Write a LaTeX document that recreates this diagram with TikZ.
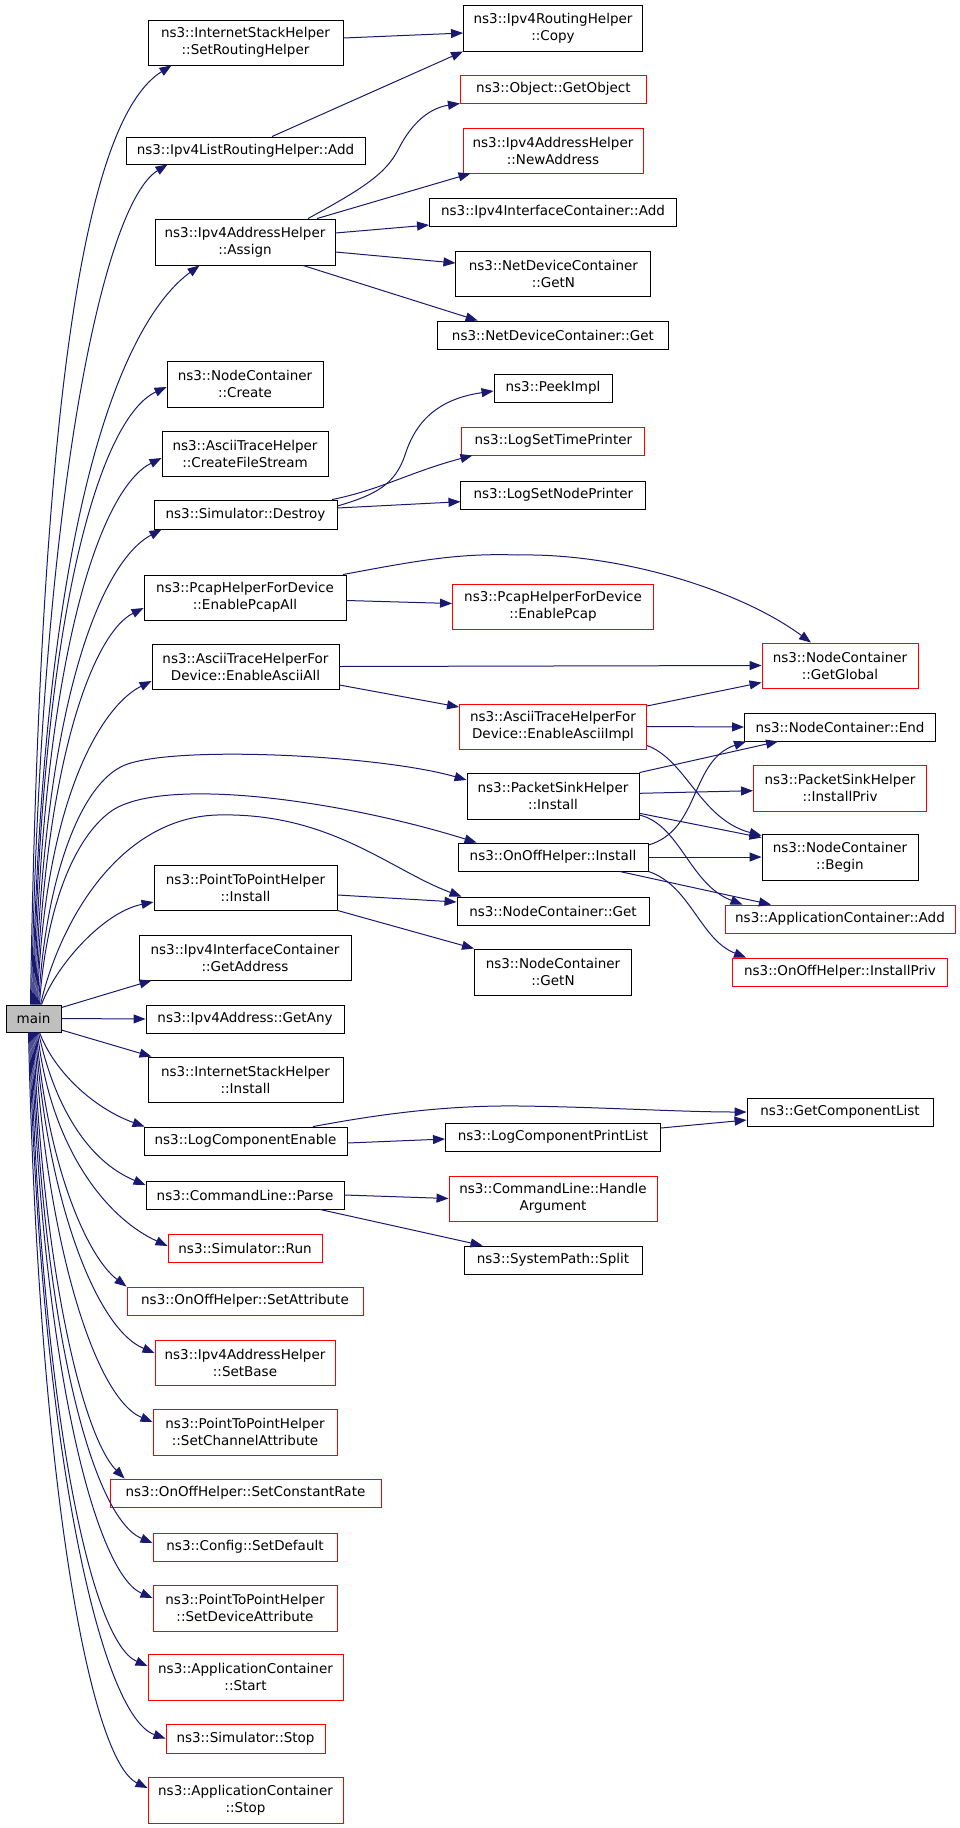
\documentclass[tikz,border=0pt]{standalone}
\usepackage{fontspec}
\setmainfont{DejaVu Sans}
\usetikzlibrary{arrows.meta}
\definecolor{edgeblue}{HTML}{191970}
\definecolor{boxred}{HTML}{FF0000}
\definecolor{maingray}{HTML}{BFBFBF}
\tikzset{
  fn/.style={draw=black, fill=white, line width=0.9pt, inner sep=0pt, align=center,
    font=\fontsize{13.5pt}{17pt}\selectfont},
  fnred/.style={fn, draw=boxred},
  fnmain/.style={fn, fill=maingray},
  edge/.style={draw=edgeblue, line width=1pt, -{Triangle[length=12pt,width=9pt]}, fill=none},
}
\begin{document}
\begin{tikzpicture}[x=1pt,y=-1pt]
\useasboundingbox (0,0) rectangle (960,1828);
% column 1
\node[fn, minimum width=195, minimum height=45] (isr) at (245.5,42.5) {ns3::InternetStackHelper\\::SetRoutingHelper};
\node[fn, minimum width=239, minimum height=27] (lrAdd) at (245.5,150.5) {ns3::Ipv4ListRoutingHelper::Add};
\node[fn, minimum width=180, minimum height=46] (assign) at (245,242) {ns3::Ipv4AddressHelper\\::Assign};
\node[fn, minimum width=156, minimum height=46] (create) at (245,384) {ns3::NodeContainer\\::Create};
\node[fn, minimum width=166, minimum height=45] (cfs) at (245,453.5) {ns3::AsciiTraceHelper\\::CreateFileStream};
\node[fn, minimum width=183, minimum height=29] (destroy) at (245.5,514.5) {ns3::Simulator::Destroy};
\node[fn, minimum width=202, minimum height=45] (pcapAll) at (245,597.5) {ns3::PcapHelperForDevice\\::EnablePcapAll};
\node[fn, minimum width=187, minimum height=45] (asciiAll) at (245.5,666.5) {ns3::AsciiTraceHelperFor\\Device::EnableAsciiAll};
\node[fn, minimum width=183, minimum height=45] (p2pInstall) at (245.5,887.5) {ns3::PointToPointHelper\\::Install};
\node[fn, minimum width=212, minimum height=45] (getAddr) at (245,957.5) {ns3::Ipv4InterfaceContainer\\::GetAddress};
\node[fnmain, minimum width=55, minimum height=27] (main) at (33.5,1018.5) {main};
\node[fn, minimum width=198, minimum height=28] (getAny) at (245,1019) {ns3::Ipv4Address::GetAny};
\node[fn, minimum width=195, minimum height=45] (isInstall) at (245.5,1079.5) {ns3::InternetStackHelper\\::Install};
\node[fn, minimum width=203, minimum height=28] (lce) at (245.5,1141) {ns3::LogComponentEnable};
\node[fn, minimum width=198, minimum height=28] (parse) at (245,1195) {ns3::CommandLine::Parse};
\node[fnred, minimum width=154, minimum height=28] (run) at (245,1248) {ns3::Simulator::Run};
\node[fnred, minimum width=236, minimum height=28] (setAttr) at (245,1301) {ns3::OnOffHelper::SetAttribute};
\node[fnred, minimum width=180, minimum height=45] (setBase) at (245,1362.5) {ns3::Ipv4AddressHelper\\::SetBase};
\node[fnred, minimum width=184, minimum height=46] (setChan) at (245,1432) {ns3::PointToPointHelper\\::SetChannelAttribute};
\node[fnred, minimum width=271, minimum height=28] (setCR) at (245.5,1493) {ns3::OnOffHelper::SetConstantRate};
\node[fnred, minimum width=184, minimum height=28] (cfgDef) at (245,1547) {ns3::Config::SetDefault};
\node[fnred, minimum width=184, minimum height=46] (setDev) at (245,1608) {ns3::PointToPointHelper\\::SetDeviceAttribute};
\node[fnred, minimum width=195, minimum height=46] (appStart) at (245.5,1677) {ns3::ApplicationContainer\\::Start};
\node[fnred, minimum width=159, minimum height=29] (simStop) at (245.5,1738.5) {ns3::Simulator::Stop};
\node[fnred, minimum width=195, minimum height=46] (appStop) at (245.5,1800) {ns3::ApplicationContainer\\::Stop};
% column 2
\node[fn, minimum width=179, minimum height=46] (copy) at (553,28) {ns3::Ipv4RoutingHelper\\::Copy};
\node[fnred, minimum width=186, minimum height=28] (getObj) at (553.4,89) {ns3::Object::GetObject};
\node[fnred, minimum width=180, minimum height=45] (newAddr) at (553,150.5) {ns3::Ipv4AddressHelper\\::NewAddress};
\node[fn, minimum width=247, minimum height=28] (icAdd) at (553,212) {ns3::Ipv4InterfaceContainer::Add};
\node[fn, minimum width=195, minimum height=45] (ndGetN) at (553.4,273.5) {ns3::NetDeviceContainer\\::GetN};
\node[fn, minimum width=231, minimum height=28] (ndGet) at (553,335) {ns3::NetDeviceContainer::Get};
\node[fn, minimum width=118, minimum height=28] (peek) at (553,388) {ns3::PeekImpl};
\node[fnred, minimum width=183, minimum height=28] (lstp) at (553.4,441) {ns3::LogSetTimePrinter};
\node[fn, minimum width=185, minimum height=28] (lsnp) at (553.4,495) {ns3::LogSetNodePrinter};
\node[fnred, minimum width=201, minimum height=45] (pcap) at (553,606.5) {ns3::PcapHelperForDevice\\::EnablePcap};
\node[fnred, minimum width=187, minimum height=45] (asciiImpl) at (553,726.5) {ns3::AsciiTraceHelperFor\\Device::EnableAsciiImpl};
\node[fn, minimum width=172, minimum height=46] (psInstall) at (553,796) {ns3::PacketSinkHelper\\::Install};
\node[fn, minimum width=190, minimum height=28] (ooInstall) at (553,857) {ns3::OnOffHelper::Install};
\node[fn, minimum width=192, minimum height=28] (ncGet) at (553,911) {ns3::NodeContainer::Get};
\node[fn, minimum width=157, minimum height=46] (ncGetN) at (553,972) {ns3::NodeContainer\\::GetN};
\node[fn, minimum width=215, minimum height=28] (lcpl) at (553,1137) {ns3::LogComponentPrintList};
\node[fnred, minimum width=208, minimum height=45] (handleArg) at (553,1198.5) {ns3::CommandLine::Handle\\Argument};
\node[fn, minimum width=178, minimum height=28] (split) at (553,1260) {ns3::SystemPath::Split};
% column 3
\node[fnred, minimum width=156, minimum height=45] (getGlobal) at (840,665.5) {ns3::NodeContainer\\::GetGlobal};
\node[fn, minimum width=191, minimum height=28] (ncEnd) at (840,727) {ns3::NodeContainer::End};
\node[fnred, minimum width=173, minimum height=46] (psPriv) at (840,788) {ns3::PacketSinkHelper\\::InstallPriv};
\node[fn, minimum width=156, minimum height=46] (ncBegin) at (840,857) {ns3::NodeContainer\\::Begin};
\node[fnred, minimum width=230, minimum height=28] (appAdd) at (840,919) {ns3::ApplicationContainer::Add};
\node[fnred, minimum width=215, minimum height=28] (ooPriv) at (840,972) {ns3::OnOffHelper::InstallPriv};
\node[fn, minimum width=186, minimum height=28] (gcl) at (840,1112) {ns3::GetComponentList};

% edges from main (upwards)
\draw[edge] ([xshift=-3pt]main.north) .. controls +(10,-650) and +(-80,50) .. ([xshift=24pt]isr.south west);
\draw[edge] ([xshift=-2pt]main.north) .. controls +(8.5,-505) and +(-65,40) .. ([xshift=42pt]lrAdd.south west);
\draw[edge] ([xshift=-1pt]main.north) .. controls +(10,-500) and +(-75,55) .. ([xshift=45pt]assign.south west);
\draw[edge] (main.north) .. controls +(8,-400) and +(-65,30) .. ([yshift=-3pt]create.west);
\draw[edge] ([xshift=1pt]main.north) .. controls +(8,-355) and +(-60,30) .. ([yshift=-4.5pt]cfs.west);
\draw[edge] ([xshift=2pt]main.north) .. controls +(8,-305) and +(-60,32) .. ([xshift=8pt]destroy.south west);
\draw[edge] ([xshift=3pt]main.north) .. controls +(8,-245) and +(-50,25) .. ([yshift=-10.5pt]pcapAll.west);
\draw[edge] ([xshift=4pt]main.north) .. controls +(6.5,-205) and +(-50,25) .. ([yshift=-14.5pt]asciiAll.west);
\draw[edge] ([xshift=5pt]main.north) .. controls (45,880) and (80,783) .. (125,765) .. controls (175,745) and (380,755) .. ([yshift=16pt]psInstall.west);
\draw[edge] ([xshift=6pt]main.north) .. controls (46,905) and (75,838) .. (110,812) .. controls (160,775) and (340,800) .. ([xshift=19pt]ooInstall.north west);
\draw[edge] ([xshift=7pt]main.north) .. controls (60,920) and (120,818) .. (217,815) .. controls (330,812) and (390,870) .. ([xshift=5pt]ncGet.north west);
\draw[edge] ([xshift=8pt]main.north) .. controls +(15,-40) and +(-50,10) .. ([yshift=-14.5pt]p2pInstall.west);
\draw[edge] ([yshift=-3pt]main.north east) -- ([xshift=13pt]getAddr.south west);
\draw[edge] (main.east) -- (getAny.west);
\draw[edge] ([yshift=-11.5pt]main.east) -- ([xshift=4pt]isInstall.north west);
% edges from main (downwards)
\draw[edge] ([xshift=6pt]main.south) .. controls +(15,40) and +(-50,-18) .. ([xshift=1pt]lce.north west);
\draw[edge] ([xshift=5pt]main.south) .. controls +(15,70) and +(-60,-25) .. ([yshift=10pt]parse.west);
\draw[edge] ([xshift=4pt]main.south) .. controls +(12,110) and +(-65,-30) .. ([yshift=2pt]run.west);
\draw[edge] ([xshift=3pt]main.south) .. controls +(10,130) and +(-40,-30) .. (setAttr.north west);
\draw[edge] ([xshift=2pt]main.south) .. controls +(10,160) and +(-60,-25) .. ([yshift=9.5pt]setBase.west);
\draw[edge] ([xshift=1pt]main.south) .. controls +(10,198) and +(-60,-25) .. ([yshift=10pt]setChan.west);
\draw[edge] (main.south) .. controls +(10,248) and +(-40,-40) .. ([xshift=15pt]setCR.north west);
\draw[edge] ([xshift=-1pt]main.south) .. controls +(10,298) and +(-60,-25) .. ([yshift=4pt]cfgDef.west);
\draw[edge] ([xshift=-2pt]main.south) .. controls +(10,328) and +(-58,-25) .. ([yshift=10pt]setDev.west);
\draw[edge] ([xshift=-3pt]main.south) .. controls +(10,368) and +(-58,-25) .. ([yshift=11pt]appStart.west);
\draw[edge] ([xshift=-4pt]main.south) .. controls +(10,408) and +(-66,-23) .. (simStop.west);
\draw[edge] ([xshift=-5pt]main.south) .. controls +(10,448) and +(-58,-28) .. ([yshift=12pt]appStop.west);

% other edges
\draw[edge] ([yshift=4.5pt]isr.east) -- ([yshift=-5pt]copy.west);
\draw[edge] ([xshift=26.5pt]lrAdd.north) -- (copy.south west);
\draw[edge] ([xshift=63pt]assign.north) .. controls (360,190) and (385,175) .. (398,150) .. controls (412,122) and (430,108) .. (getObj.south west);
\draw[edge] ([xshift=72pt]assign.north) -- ([xshift=8pt]newAddr.south west);
\draw[edge] ([yshift=9pt]assign.east) -- ([yshift=-13pt]icAdd.west);
\draw[edge] ([yshift=-10pt]assign.east) -- ([yshift=10.5pt]ndGetN.west);
\draw[edge] ([xshift=58pt]assign.south) -- ([xshift=40.6pt]ndGet.north west);
\draw[edge] ([yshift=8.5pt]destroy.east) .. controls (375,495) and (395,485) .. (405,455) .. controls (413,430) and (430,400) .. ([yshift=-3pt]peek.west);
\draw[edge] ([xshift=86.5pt]destroy.north) .. controls (380,490) and (410,472) .. ([xshift=11pt]lstp.south west);
\draw[edge] ([yshift=6.5pt]destroy.east) -- ([yshift=-6.7pt]lsnp.west);
\draw[edge] ([xshift=98pt]pcapAll.north) .. controls (420,560) and (460,553) .. (518,555) .. controls (620,553) and (740,590) .. ([xshift=-29pt]getGlobal.north);
\draw[edge] ([yshift=-3pt]pcapAll.east) -- ([yshift=3pt]pcap.west);
\draw[edge] (asciiAll.east) -- (getGlobal.west);
\draw[edge] ([yshift=-18.5pt]asciiAll.east) -- ([yshift=19.5pt]asciiImpl.west);
\draw[edge] ([yshift=20.5pt]asciiImpl.east) -- ([yshift=-17pt]getGlobal.west);
\draw[edge] (asciiImpl.east) -- (ncEnd.west);
\draw[edge] ([yshift=-19pt]asciiImpl.east) .. controls +(39,14) and +(-61,-16) .. ([yshift=-2pt]ncBegin.north west);
\draw[edge] (psInstall.north east) -- ([xshift=34pt]ncEnd.south west);
\draw[edge] ([yshift=2.7pt]psInstall.east) -- ([yshift=-2.7pt]psPriv.west);
\draw[edge] ([yshift=-17.3pt]psInstall.east) -- ([yshift=-4pt]ncBegin.north west);
\draw[edge] ([yshift=-19pt]psInstall.east) .. controls +(41,10) and +(-53,-20) .. ([xshift=18pt]appAdd.north west);
\draw[edge] ([yshift=12pt]ooInstall.east) .. controls +(52,-15) and +(-56,19) .. ([xshift=2pt]ncEnd.south west);
\draw[edge] (ooInstall.east) -- (ncBegin.west);
\draw[edge] ([xshift=66.6pt]ooInstall.south) -- ([xshift=46.4pt]appAdd.north west);
\draw[edge] (ooInstall.south east) .. controls +(42,14) and +(-46,-18) .. ([xshift=14pt]ooPriv.north west);
\draw[edge] ([yshift=-7.5pt]p2pInstall.east) -- ([yshift=9pt]ncGet.west);
\draw[edge] (p2pInstall.south east) -- (ncGetN.north west);
\draw[edge] ([xshift=67.5pt]lce.north) .. controls (370,1116) and (440,1105) .. (520,1106) .. controls (600,1107) and (680,1112) .. (gcl.west);
\draw[edge] ([yshift=-2pt]lce.east) -- ([yshift=-2pt]lcpl.west);
\draw[edge] ([yshift=9pt]lcpl.east) -- ([yshift=-8pt]gcl.west);
\draw[edge] (parse.east) -- (handleArg.west);
\draw[edge] ([xshift=75pt]parse.south) -- ([xshift=19pt]split.north west);
\end{tikzpicture}
\end{document}
